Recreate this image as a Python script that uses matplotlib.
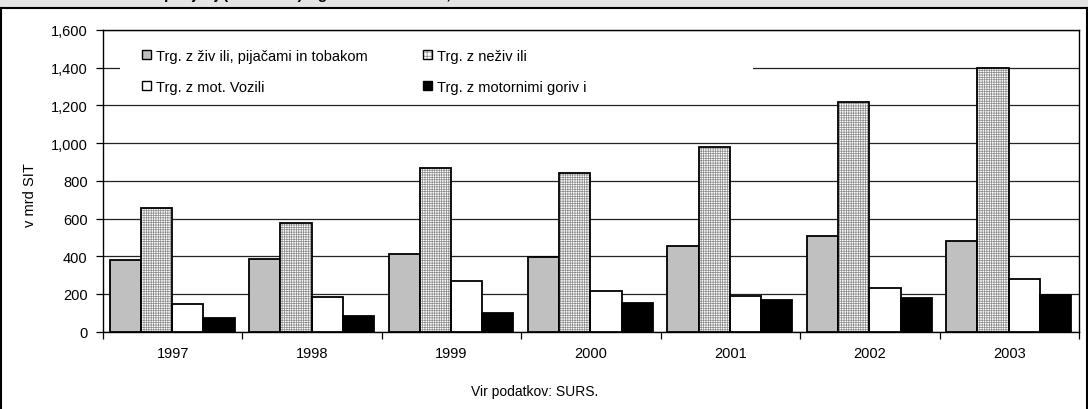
import matplotlib
matplotlib.use("Agg")
import matplotlib.pyplot as plt
from matplotlib.patches import Rectangle, Patch
from matplotlib.lines import Line2D
import numpy as np

plt.rcParams['font.family'] = ['Liberation Sans', 'DejaVu Sans']
plt.rcParams['hatch.linewidth'] = 0.5

years = ['1997', '1998', '1999', '2000', '2001', '2002', '2003']
zivila = [378, 387, 413, 396, 455, 507, 482]
nezivila = [655, 576, 866, 840, 980, 1220, 1400]
vozila = [147, 182, 268, 216, 191, 233, 278]
goriva = [73, 81, 97, 150, 166, 177, 194]
series_names = ['Trg. z živ ili, pijačami in tobakom', 'Trg. z neživ ili',
                'Trg. z mot. Vozili', 'Trg. z motornimi goriv i']
yticks = [0, 200, 400, 600, 800, 1000, 1200, 1400, 1600]

W, H = 1088, 410
fig = plt.figure(figsize=(W / 100, H / 100), dpi=100)

# outer frame / title band
fig.patches.append(Rectangle((0, 1 - 8 / H), 1, 8 / H, transform=fig.transFigure,
                             facecolor='#e4e4e4', edgecolor='none', zorder=0))
fig.add_artist(Line2D([0, 1], [1 - 8.5 / H, 1 - 8.5 / H], transform=fig.transFigure, color='black', lw=1.5))
fig.add_artist(Line2D([0.5 / W, 0.5 / W], [0, 1 - 8.5 / H], transform=fig.transFigure, color='black', lw=1.5))
fig.add_artist(Line2D([1 - 1 / W, 1 - 1 / W], [0, 1 - 8.5 / H], transform=fig.transFigure, color='black', lw=1.5))
fig.text(40 / W, 1 + 1.5 / H, 'Slika 5: Prihodki podjetij (v mrd SIT) trgovine na drobno, 1997-2003',
         fontsize=11, fontweight='bold', ha='left', va='baseline')

left, right, top, bottom = 103, 1079, 31, 332.7
ax = fig.add_axes([left / W, 1 - bottom / H, (right - left) / W, (bottom - top) / H])

x = np.arange(len(years))
bw = 0.224
offs = np.array([-1.5, -0.5, 0.5, 1.5]) * bw - 0.004

ax.bar(x + offs[0], zivila, bw, color='#c0c0c0', edgecolor='black', linewidth=1.3, zorder=3)
ax.bar(x + offs[1], nezivila, bw, color='white', edgecolor='#8a8a8a', hatch='+++++++', linewidth=0, zorder=3)
ax.bar(x + offs[1], nezivila, bw, color='none', edgecolor='black', linewidth=1.3, zorder=4)
ax.bar(x + offs[2], vozila, bw, color='white', edgecolor='black', linewidth=1.3, zorder=3)
ax.bar(x + offs[3], goriva, bw, color='black', edgecolor='black', linewidth=1.3, zorder=3)

ax.set_xlim(-0.5, len(years) - 0.5)
ax.set_ylim(0, 1600)
ax.set_yticks(yticks)
ax.set_yticklabels([f'{v:,}' for v in yticks], fontsize=10.5)
ax.yaxis.grid(True, color='#222222', linewidth=0.9, zorder=0)
ax.set_axisbelow(True)
ax.tick_params(axis='y', direction='out', length=5, width=0.9, pad=6)

ax.set_xticks(x)
ax.set_xticklabels(years, fontsize=10.5)
ax.tick_params(axis='x', which='major', length=0, pad=10)
ax.set_xticks(np.arange(len(years) + 1) - 0.5, minor=True)
ax.tick_params(axis='x', which='minor', direction='out', length=5, width=0.9)

for s in ax.spines.values():
    s.set_linewidth(1.0)
    s.set_color('black')

# white box behind legend covering gridlines
ax.add_patch(Rectangle(((120 - left) / (right - left), (bottom - 103) / (bottom - top)),
                       (753 - 120) / (right - left), (103 - 36) / (bottom - top),
                       transform=ax.transAxes, facecolor='white', edgecolor='none', zorder=2))

h_ziv = Patch(facecolor='#c0c0c0', edgecolor='black', linewidth=1)
h_nez = (Patch(facecolor='white', edgecolor='#8a8a8a', hatch='++++', linewidth=0),
         Patch(facecolor='none', edgecolor='black', linewidth=1))
h_voz = Patch(facecolor='white', edgecolor='black', linewidth=1)
h_gor = Patch(facecolor='black', edgecolor='black', linewidth=1)
# legend fills column-wise: order so rows read (zivila, nezivila) / (vozila, goriva)
leg = ax.legend([h_ziv, h_voz, h_nez, h_gor],
                [series_names[0], series_names[2], series_names[1], series_names[3]],
                ncol=2, frameon=False, fontsize=10.5,
                loc='upper left', bbox_to_anchor=((142 - left) / (right - left), (bottom - 50) / (bottom - top)),
                borderaxespad=0, borderpad=0, handlelength=0.6, handleheight=0.6, handletextpad=0.35,
                columnspacing=3.8, labelspacing=1.15)
leg.set_zorder(5)

fig.text(30 / W, 1 - 195 / H, 'v mrd SIT', rotation=90, fontsize=10.5, ha='center', va='center')
fig.text(535 / W, 1 - 392 / H, 'Vir podatkov: SURS.', fontsize=10, ha='center', va='center')

fig.savefig('out.png', dpi=100)
